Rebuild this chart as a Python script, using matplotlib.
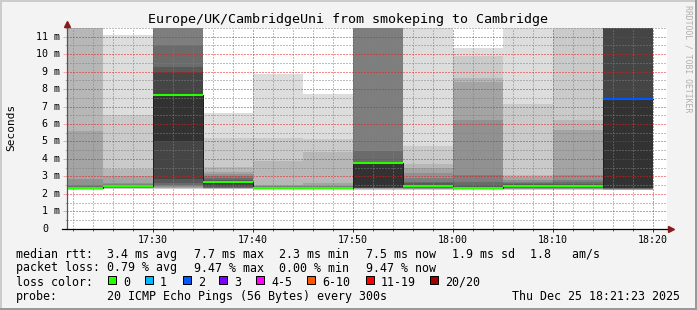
import matplotlib
matplotlib.use("Agg")
import matplotlib.pyplot as plt
from matplotlib.patches import Rectangle
from matplotlib.ticker import MultipleLocator
import numpy as np

# 5 minute steps (end time of each step), values in ms
bar_end = ["17:25", "17:30", "17:35", "17:40", "17:45", "17:50",
           "17:55", "18:00", "18:05", "18:10", "18:15", "18:20"]
median_ms = [2.35, 2.42, 7.67, 2.70, 2.35, 2.35, 3.79, 2.47, 2.35, 2.45, 2.47, 7.44]
lost_pings = [0, 0, 0, 0, 0, 0, 0, 0, 0, 0, 0, 2]

# 20 sorted ping times per step (nan = lost)
nan = float("nan")
ping_ms = [
    [2.20, 2.24, 2.27, 2.29, 2.31, 2.32, 2.33, 2.34, 2.35, 2.35, 2.35, 2.38, 2.40, 2.45, 2.50, 2.83, 5.60, 12.0, 14.0, 17.0],
    [2.28, 2.30, 2.32, 2.33, 2.34, 2.36, 2.38, 2.40, 2.41, 2.42, 2.42, 2.46, 2.48, 2.50, 2.55, 2.62, 3.00, 3.44, 6.50, 11.1],
    [2.27, 2.30, 2.33, 2.36, 2.40, 2.45, 2.50, 2.60, 2.85, 5.03, 7.67, 9.00, 9.29, 10.54, 12.0, 13.0, 14.5, 16.0, 18.0, 21.0],
    [2.25, 2.28, 2.30, 2.31, 2.32, 2.33, 2.35, 2.38, 2.45, 2.55, 2.70, 2.75, 2.80, 2.90, 3.00, 3.14, 3.27, 3.52, 5.19, 6.65],
    [2.22, 2.25, 2.27, 2.29, 2.30, 2.31, 2.32, 2.33, 2.34, 2.35, 2.35, 2.36, 2.38, 2.40, 2.43, 2.45, 2.50, 3.88, 5.21, 8.88],
    [2.22, 2.25, 2.27, 2.29, 2.30, 2.31, 2.32, 2.33, 2.34, 2.35, 2.35, 2.36, 2.38, 2.40, 2.42, 2.45, 2.60, 4.42, 5.15, 7.73],
    [2.20, 2.24, 2.27, 2.29, 2.31, 2.32, 2.33, 2.34, 2.35, 2.37, 3.79, 3.82, 3.85, 4.47, 12.0, 13.0, 14.0, 15.5, 17.0, 19.0],
    [2.20, 2.22, 2.25, 2.28, 2.30, 2.33, 2.36, 2.39, 2.42, 2.45, 2.47, 2.52, 2.60, 2.70, 2.90, 3.20, 3.48, 3.70, 4.76, 12.5],
    [2.20, 2.23, 2.26, 2.28, 2.30, 2.31, 2.32, 2.33, 2.34, 2.35, 2.35, 2.40, 2.50, 2.70, 3.10, 6.24, 8.38, 8.66, 9.91, 10.37],
    [2.20, 2.23, 2.26, 2.28, 2.30, 2.32, 2.35, 2.38, 2.41, 2.44, 2.45, 2.50, 2.55, 2.60, 2.70, 2.80, 2.95, 3.06, 7.15, 12.5],
    [2.20, 2.23, 2.26, 2.28, 2.30, 2.32, 2.35, 2.38, 2.41, 2.44, 2.47, 2.53, 2.58, 2.65, 2.80, 3.05, 5.66, 6.24, 12.0, 14.0],
    [2.18, 2.20, 2.22, 2.24, 2.26, 2.28, 2.30, 2.31, 2.32, 2.32, 7.44, 12.0, 13.0, 14.0, 15.0, 16.0, 17.0, 18.0, nan, nan],
]

y_ticks = [0, 1, 2, 3, 4, 5, 6, 7, 8, 9, 10, 11]
x_labels = ["17:30", "17:40", "17:50", "18:00", "18:10", "18:20"]

loss_labels = ["0", "1", "2", "3", "4-5", "6-10", "11-19", "20/20"]
loss_colors = ["#26ff00", "#00b8ff", "#0059ff", "#7e00ff", "#ff00ff", "#ff5500", "#ff0000", "#a10000"]

legend_rtt = ["3.4 ms avg", "7.7 ms max", "2.3 ms min", "7.5 ms now", "1.9 ms sd", "1.8   am/s"]
legend_loss = ["0.79 % avg", "9.47 % max", "0.00 % min", "9.47 % now"]
probe_text = "20 ICMP Echo Pings (56 Bytes) every 300s"
stamp = "Thu Dec 25 18:21:23 2025"
title = "Europe/UK/CambridgeUni from smokeping to Cambridge"

W, H = 697, 310
mono = "DejaVu Sans Mono"


def fx(px):
    return px / W


def fy(py):
    return 1 - py / H


def to_min(s):
    h, m = s.split(":")
    return (int(h) - 17) * 60 + int(m)


def loss_index(n):
    if n <= 3:
        return n
    if n <= 5:
        return 4
    if n <= 10:
        return 5
    if n <= 19:
        return 6
    return 7


fig = plt.figure(figsize=(W / 100, H / 100), dpi=100, facecolor="#f3f3f3")
ax = fig.add_axes([fx(67), fy(228.7), 600 / W, 200.7 / H])
ax.set_facecolor("white")
x0 = 21 + 23 / 60
ax.set_xlim(x0, x0 + 60)
ax.set_ylim(0, 11.5)

ends = [to_min(s) for s in bar_end]
starts = [e - 5 for e in ends]

# smoke: pairs of pings, inner pairs darker
for b in range(len(ends)):
    p = ping_ms[b]
    for ibot in range(1, 11):
        itop = 21 - ibot
        lo, hi = p[ibot - 1], p[itop - 1]
        if np.isnan(lo) or np.isnan(hi):
            continue
        g = int(190 / 10 * (10 - ibot)) + 50
        ax.bar(starts[b], hi - lo, bottom=lo, width=5, align="edge",
               color="#%02x%02x%02x" % (g, g, g), linewidth=0, zorder=1)

# median
xs = starts + [ends[-1]]
ys = median_ms + [median_ms[-1]]
ax.plot(xs, ys, drawstyle="steps-post", color="#202020", lw=0.72, zorder=3)
for b in range(len(ends)):
    ax.hlines(median_ms[b], starts[b], ends[b], color=loss_colors[loss_index(lost_pings[b])],
              lw=1.5, zorder=4)

# grid
ax.set_axisbelow(False)
ax.xaxis.set_major_locator(MultipleLocator(10))
ax.xaxis.set_minor_locator(MultipleLocator(2))
ax.yaxis.set_major_locator(MultipleLocator(1))
ax.yaxis.set_minor_locator(MultipleLocator(0.5))
ax.grid(which="minor", color=(0.5, 0.5, 0.5, 0.35), lw=0.72, linestyle=(0, (1, 2)))
ax.grid(which="major", color=(0.9, 0.1, 0.1, 0.32), lw=0.72, linestyle=(0, (1, 2)))

ax.set_xticks([to_min(s) for s in x_labels])
ax.set_xticklabels(x_labels, family=mono, fontsize=7.2)
ax.tick_params(axis="x", which="major", length=2.5, width=0.72, color="#333333", pad=2.2)
ax.tick_params(axis="x", which="minor", length=1.5, width=0.72, color="#666666")
ax.tick_params(axis="y", which="major", length=3, width=0.72, color=(1, 0, 0, 0.3), labelleft=False)
ax.tick_params(axis="y", which="minor", length=1.5, width=0.72, color=(0.5, 0.5, 0.5, 0.5))

for v in y_ticks:
    lab = "0" if v == 0 else "%d m" % v
    left = 36 if v >= 10 else 42
    ax.text((left - 67) / 600, v, lab, transform=ax.get_yaxis_transform(),
            family=mono, fontsize=7.2, va="center", ha="left")

for s in ax.spines.values():
    s.set_visible(False)

# axis lines with arrows
ax.plot([0, 0], [0, (228.7 - 24) / 200.7], transform=ax.transAxes, clip_on=False,
        color="#555555", lw=0.9, zorder=5)
ax.plot([-5 / 600, 602 / 600], [0, 0], transform=ax.transAxes, clip_on=False,
        color="black", lw=0.9, zorder=5)
ax.plot([0], [(228.7 - 23.5) / 200.7], transform=ax.transAxes, clip_on=False,
        marker="^", markersize=4, color="#8b1a1a", zorder=6)
ax.plot([604 / 600], [0], transform=ax.transAxes, clip_on=False,
        marker=">", markersize=4, color="#8b1a1a", zorder=6)

# texts
fig.text(0.5, fy(19), title, family=mono, fontsize=9.6, ha="center", va="center")
fig.text(fx(11), fy(127), "Seconds", family=mono, fontsize=8, rotation=90,
         ha="center", va="center")
fig.text(fx(688), fy(59), "RRDTOOL / TOBI OETIKER", family=mono, fontsize=5.9,
         rotation=-90, ha="center", va="center", color="#b0b0b0")

fs = 8.4
col_x = [107.3, 193.7, 279.3, 366.3, 451.7, 530]
fig.text(fx(16), fy(254.3), "median rtt:", family=mono, fontsize=fs, va="center")
for i, t in enumerate(legend_rtt):
    fig.text(fx(col_x[i]), fy(254.3), t, family=mono, fontsize=fs, va="center")
fig.text(fx(16), fy(268), "packet loss:", family=mono, fontsize=fs, va="center")
for i, t in enumerate(legend_loss):
    fig.text(fx(col_x[i]), fy(268), t, family=mono, fontsize=fs, va="center")

fig.text(fx(16), fy(282), "loss color:", family=mono, fontsize=fs, va="center")
box_x = [108, 145, 182.7, 219, 256, 307, 365.7, 430]
for i, lab in enumerate(loss_labels):
    fig.patches.append(Rectangle((fx(box_x[i]), fy(284)), 8 / W, 8 / H,
                                 transform=fig.transFigure, facecolor=loss_colors[i],
                                 edgecolor="black", lw=0.72))
    fig.text(fx(box_x[i] + 15), fy(282), lab, family=mono, fontsize=fs, va="center")

fig.text(fx(16), fy(296.3), "probe:", family=mono, fontsize=fs, va="center")
fig.text(fx(107.3), fy(296.3), probe_text, family=mono, fontsize=fs, va="center")
fig.text(fx(680), fy(296.3), stamp, family=mono, fontsize=fs, va="center", ha="right")

# 3d border
fig.patches.append(Rectangle((0, fy(2)), 1, 2 / H, transform=fig.transFigure,
                             facecolor="#cccccc", lw=0))
fig.patches.append(Rectangle((0, 0), 2 / W, 1, transform=fig.transFigure,
                             facecolor="#cccccc", lw=0))
fig.patches.append(Rectangle((0, 0), 1, 2 / H, transform=fig.transFigure,
                             facecolor="#999999", lw=0))
fig.patches.append(Rectangle((fx(695), 0), 2 / W, 1, transform=fig.transFigure,
                             facecolor="#999999", lw=0))

fig.savefig("out.png", dpi=100, facecolor=fig.get_facecolor())
